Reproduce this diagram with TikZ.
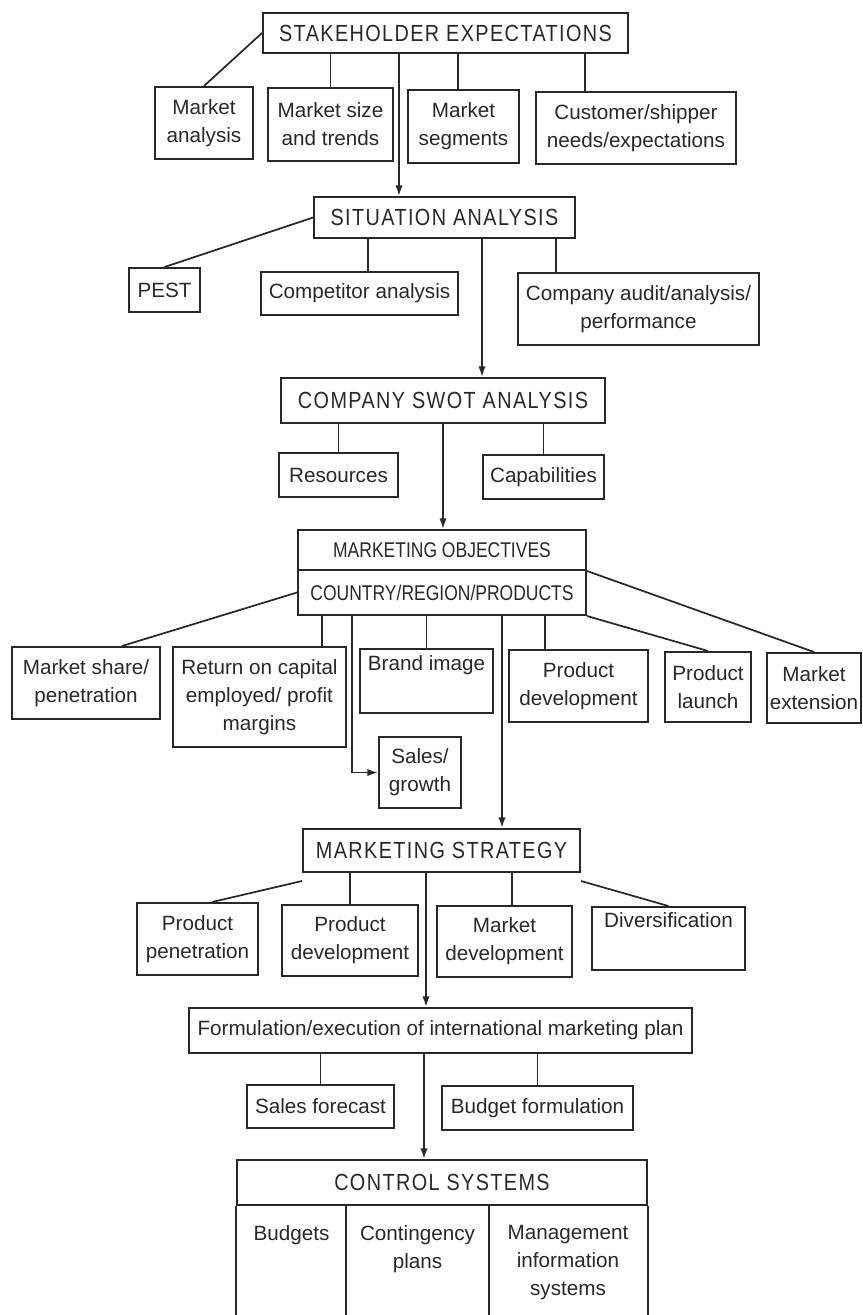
\documentclass[tikz,border=0pt]{standalone}
\usepackage{fontspec}
\setmainfont{Liberation Sans}
\newfontfamily\headfont{Liberation Sans}[FakeStretch=0.85,LetterSpace=6.0]
\newfontfamily\narrowfont{Liberation Sans}[FakeStretch=0.82]
\usetikzlibrary{arrows,arrows.meta}
\definecolor{ink}{RGB}{40,40,40}
\tikzset{every picture/.style={line width=0.75pt}}
\tikzset{
wh/.style 2 args={minimum width=#1*0.75pt, minimum height=#2*0.75pt},
box/.style={draw=ink, line width=1.5pt, text=ink, align=center, inner sep=0pt, font=\fontsize{15.5}{21}\selectfont},
headbox/.style={box, font=\headfont\fontsize{17.5}{21}\selectfont},
objbox/.style={box, font=\narrowfont\fontsize{16}{21}\selectfont},
coltext/.style={text=ink, align=center, inner sep=0pt, anchor=north, font=\fontsize{15.5}{21}\selectfont},
link/.style={draw=ink, line width=1.3pt},
flow/.style={link, -{Latex[length=8pt,width=5.5pt]}}}

\begin{document}
\begin{tikzpicture}[x=0.75pt,y=0.75pt,yscale=-1,xscale=1]
\useasboundingbox (0,0) rectangle (863,1315);

%Stakeholder level
% Text Node
\node [headbox, wh={365}{40}] (stake) at (445.5,33) {STAKEHOLDER EXPECTATIONS};
% Text Node
\node [box, wh={98}{72}] (manal) at (204,123) {Market\\analysis};
% Text Node
\node [box, wh={125}{73}] (msize) at (330.5,124.5) {Market size\\and trends};
% Text Node
\node [box, wh={111}{73}] (mseg) at (463.5,126.5) {Market\\segments};
% Text Node
\node [box, wh={200}{72}] (cust) at (636,128) {Customer/shipper\\needs/expectations};

%Situation level
% Text Node
\node [headbox, wh={261}{41}] (sit) at (444.5,217.5) {SITUATION ANALYSIS};
% Text Node
\node [box, wh={71}{44}] (pest) at (164.5,290) {PEST};
% Text Node
\node [box, wh={197}{43}] (comp) at (359.5,293.5) {Competitor analysis};
% Text Node
\node [box, wh={241}{72}] (audit) at (638.5,309) {Company audit/analysis/\\performance};

%SWOT level
% Text Node
\node [headbox, wh={324}{45}] (swot) at (443,400.5) {COMPANY SWOT ANALYSIS};
% Text Node
\node [box, wh={119}{44}] (res) at (338.5,475) {Resources};
% Text Node
\node [box, wh={121}{44}] (cap) at (543.5,477) {Capabilities};

%Objectives level
% Text Node
\node [objbox, wh={288}{40}] (obja) at (442,550) {MARKETING OBJECTIVES};
% Text Node
\node [objbox, wh={288}{45}] (objb) at (442,592.5) {COUNTRY/REGION/PRODUCTS};
% Text Node
\node [box, wh={148}{72}] (share) at (86,683) {Market share/\\penetration};
% Text Node
\node [box, wh={173}{100}] (roc) at (259.5,697) {Return on capital\\employed/ profit\\margins};
% Text Node
\node [box, wh={133}{64}] (brand) at (426.5,681) {Brand image\\ \strut};
% Text Node
\node [box, wh={139}{72}] (pdeva) at (578.5,686) {Product\\development};
% Text Node
\node [box, wh={86}{70}] (launch) at (708,687) {Product\\launch};
% Text Node
\node [box, wh={94}{70}] (mext) at (814,688) {Market\\extension};
% Text Node
\node [box, wh={82}{71}] (sales) at (420,772.5) {Sales/\\growth};

%Strategy level
% Text Node
\node [headbox, wh={277}{43}] (strat) at (441.5,850.5) {MARKETING STRATEGY};
% Text Node
\node [box, wh={121}{72}] (ppen) at (197.5,939) {Product\\penetration};
% Text Node
\node [box, wh={136}{71}] (pdevb) at (350,940.5) {Product\\development};
% Text Node
\node [box, wh={135}{71}] (mdev) at (504.5,941.5) {Market\\development};
% Text Node
\node [box, wh={153}{63}] (divers) at (668.5,938.5) {Diversification\\ \strut};

%Plan level
% Text Node
\node [box, wh={503}{45}] (form) at (440.5,1030.5) {Formulation/execution of international marketing plan};
% Text Node
\node [box, wh={147}{43}] (sfc) at (320.5,1106.5) {Sales forecast};
% Text Node
\node [box, wh={191}{44}] (bud) at (537.5,1108) {Budget formulation};

%Control systems
% Text Node
\node [headbox, wh={410}{45}] (ctrl) at (442,1182.5) {CONTROL SYSTEMS};
\coordinate (cbot) at (0,1315);
\coordinate (cdiva) at (346,0);
\coordinate (cdivb) at (489,0);
\draw [link, line width=1.5pt] (ctrl.south west) -- (ctrl.south west |- cbot);
\draw [link, line width=1.5pt] (ctrl.south east) -- (ctrl.south east |- cbot);
\draw [link, line width=1.5pt] (ctrl.south -| cdiva) -- (cbot -| cdiva);
\draw [link, line width=1.5pt] (ctrl.south -| cdivb) -- (cbot -| cdivb);
% Text Node
\node [coltext] (cbudg) at (291.5,1225) {Budgets};
% Text Node
\node [coltext] (ccont) at (417.5,1225) {Contingency\\plans};
% Text Node
\node [coltext] (cmis) at (568,1225) {Management\\information\\systems};

%Trunk and branch positions
\coordinate (ta) at (399,0);
\coordinate (tb) at (482,0);
\coordinate (tc) at (443,0);
\coordinate (td) at (502,0);
\coordinate (te) at (426,0);
\coordinate (tf) at (424,0);
\coordinate (bseg) at (458,0);
\coordinate (bcust) at (585,0);
\coordinate (bcomp) at (368,0);
\coordinate (baudit) at (556,0);
\coordinate (broc) at (322,0);
\coordinate (bpdev) at (545,0);
\coordinate (bsales) at (352,0);
\coordinate (bmdev) at (512,0);

%Connectors
\draw [link] (stake.west) -- (manal.north);
\draw [link] (stake.south -| msize.north) -- (msize.north);
\draw [link] (stake.south -| bseg) -- (mseg.north -| bseg);
\draw [link] (stake.south -| bcust) -- (cust.north -| bcust);
\draw [flow] (stake.south -| ta) -- (sit.north -| ta);

\draw [link] (sit.west) -- (pest.north);
\draw [link] (sit.south -| bcomp) -- (comp.north -| bcomp);
\draw [link] (sit.south -| baudit) -- (audit.north -| baudit);
\draw [flow] (sit.south -| tb) -- (swot.north -| tb);

\draw [link] (swot.south -| res.north) -- (res.north);
\draw [link] (swot.south -| cap.north) -- (cap.north);
\draw [flow] (swot.south -| tc) -- (obja.north -| tc);

\draw [link] (objb.west) -- ([xshift=27pt]share.north);
\draw [link] (objb.south -| broc) -- (roc.north -| broc);
\draw [flow] (objb.south -| bsales) |- (sales.west);
\draw [link] (objb.south -| brand.north) -- (brand.north);
\draw [link] (objb.south -| bpdev) -- (pdeva.north -| bpdev);
\draw [link] (objb.south east) -- (launch.north);
\draw [link] (obja.south east) -- (mext.north);
\draw [flow] (objb.south -| td) -- (strat.north -| td);

\draw [link] ([yshift=6pt]strat.south west) -- ([xshift=11pt]ppen.north);
\draw [link] (strat.south -| pdevb.north) -- (pdevb.north);
\draw [link] (strat.south -| bmdev) -- (mdev.north -| bmdev);
\draw [link] ([yshift=6pt]strat.south east) -- (divers.north);
\draw [flow] (strat.south -| te) -- (form.north -| te);

\draw [link] (form.south -| sfc.north) -- (sfc.north);
\draw [link] (form.south -| bud.north) -- (bud.north);
\draw [flow] (form.south -| tf) -- (ctrl.north -| tf);
\end{tikzpicture}
\end{document}
